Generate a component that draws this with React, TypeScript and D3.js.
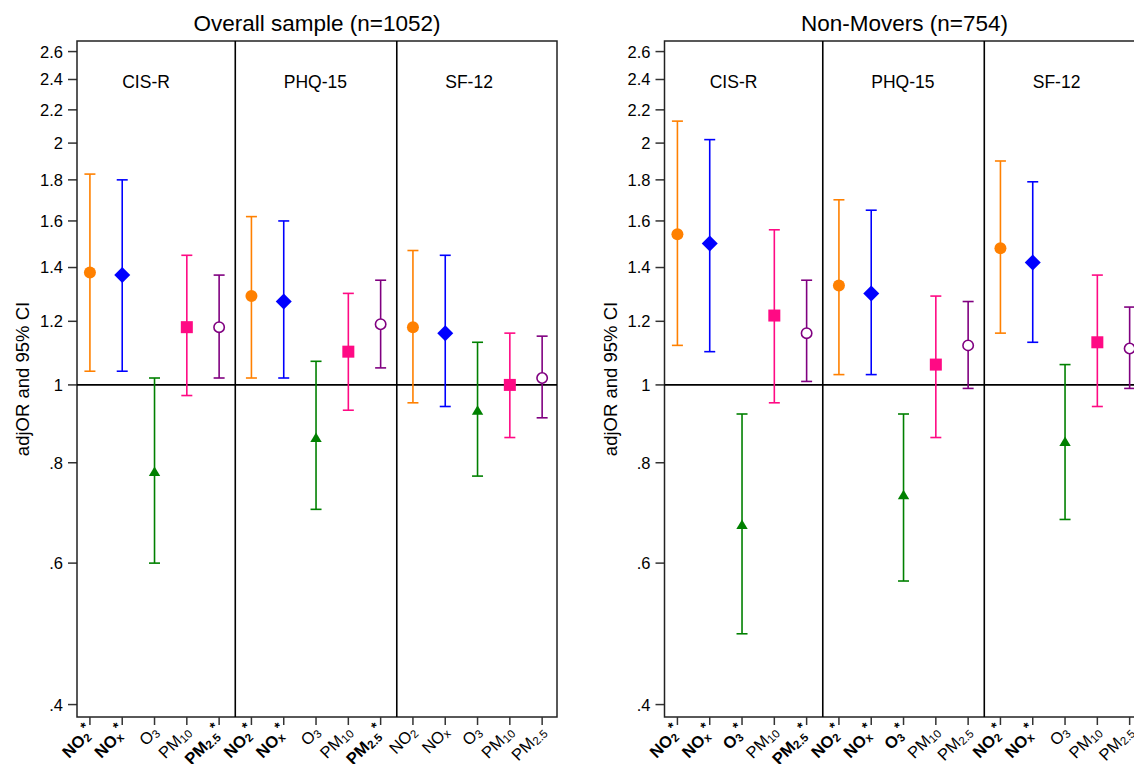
import React, { useEffect, useRef } from 'react';
import * as d3 from 'd3';

// outcomes (panels) and pollutants (x categories)
const outcomes = ['CIS-R', 'PHQ-15', 'SF-12'];
const pollutants = [
  { base: 'NO', sub: '2' },
  { base: 'NO', sub: 'x' },
  { base: 'O', sub: '3' },
  { base: 'PM', sub: '10' },
  { base: 'PM', sub: '2.5' },
];
const colors = ['#ff8000', '#0000ff', '#008000', '#ff0a84', '#800080'];

const yTicks = [0.4, 0.6, 0.8, 1, 1.2, 1.4, 1.6, 1.8, 2, 2.2, 2.4, 2.6];
const yTickLabels = ['.4', '.6', '.8', '1', '1.2', '1.4', '1.6', '1.8', '2', '2.2', '2.4', '2.6'];

// overall sample, ordered CIS-R, PHQ-15, SF-12 x pollutants
const overallOR = [1.38, 1.37, 0.78, 1.18, 1.18, 1.29, 1.27, 0.86, 1.1, 1.19, 1.18, 1.16, 0.93, 1.0, 1.02];
const overallLo = [1.04, 1.04, 0.6, 0.97, 1.02, 1.02, 1.02, 0.7, 0.93, 1.05, 0.95, 0.94, 0.77, 0.86, 0.91];
const overallHi = [1.83, 1.8, 1.02, 1.45, 1.37, 1.62, 1.6, 1.07, 1.3, 1.35, 1.47, 1.45, 1.13, 1.16, 1.15];
const overallSig = [1, 1, 0, 0, 1, 1, 1, 0, 0, 1, 0, 0, 0, 0, 0];

// non-movers
const stayOR = [1.54, 1.5, 0.67, 1.22, 1.16, 1.33, 1.3, 0.73, 1.06, 1.12, 1.48, 1.42, 0.85, 1.13, 1.11];
const stayLo = [1.12, 1.1, 0.49, 0.95, 1.01, 1.03, 1.03, 0.57, 0.86, 0.99, 1.16, 1.13, 0.68, 0.94, 0.99];
const stayHi = [2.13, 2.02, 0.92, 1.56, 1.35, 1.7, 1.65, 0.92, 1.29, 1.27, 1.9, 1.79, 1.06, 1.37, 1.25];
const staySig = [1, 1, 1, 0, 1, 1, 1, 1, 0, 0, 1, 1, 0, 0, 0];

const FONT = '"Liberation Sans", Arial, sans-serif';

const App = () => {
  const ref = useRef<SVGSVGElement>(null);

  useEffect(() => {
    const svg = d3.select(ref.current);
    svg.selectAll('*').remove();

    const top = 41;
    const bottom = 717;
    const y = d3.scaleLog().domain([0.386, 2.68]).range([bottom, top]);

    const drawPanel = (x0: number, title: string, or: number[], lo: number[], hi: number[], sig: number[]) => {
      const w = 480;
      const x = d3.scaleLinear().domain([0.6, 15.46]).range([x0, x0 + w]);
      const g = svg.append('g');

      g.append('text')
        .attr('x', x0 + w / 2)
        .attr('y', 31)
        .attr('text-anchor', 'middle')
        .style('font-family', FONT)
        .style('font-size', '22.5px')
        .text(title);

      g.append('text')
        .attr('transform', `translate(${x0 - 48},${(top + bottom) / 2}) rotate(-90)`)
        .attr('text-anchor', 'middle')
        .style('font-family', FONT)
        .style('font-size', '18.5px')
        .text('adjOR and 95% CI');

      // y axis ticks
      yTicks.forEach((t, i) => {
        g.append('line')
          .attr('x1', x0 - 9).attr('x2', x0)
          .attr('y1', y(t)).attr('y2', y(t))
          .attr('stroke', '#333').attr('stroke-width', 1.5);
        g.append('text')
          .attr('x', x0 - 14)
          .attr('y', y(t))
          .attr('dy', '0.36em')
          .attr('text-anchor', 'end')
          .style('font-family', FONT)
          .style('font-size', '16.5px')
          .text(yTickLabels[i]);
      });

      // frame, separators, reference line
      g.append('rect')
        .attr('x', x0).attr('y', top)
        .attr('width', w).attr('height', bottom - top)
        .attr('fill', 'none').attr('stroke', '#222').attr('stroke-width', 1.5);
      [5.5, 10.5].forEach((s) => {
        g.append('line')
          .attr('x1', x(s)).attr('x2', x(s))
          .attr('y1', top).attr('y2', bottom)
          .attr('stroke', '#000').attr('stroke-width', 1.6);
      });
      g.append('line')
        .attr('x1', x0).attr('x2', x0 + w)
        .attr('y1', y(1)).attr('y2', y(1))
        .attr('stroke', '#000').attr('stroke-width', 1.6);

      outcomes.forEach((o, k) => {
        g.append('text')
          .attr('x', x(k * 5 + 2))
          .attr('y', y(2.34))
          .style('font-family', FONT)
          .style('font-size', '17.5px')
          .text(o);
      });

      or.forEach((v, i) => {
        const p = i % 5;
        const cx = x(i + 1);
        const c = colors[p];

        // x tick and label
        g.append('line')
          .attr('x1', cx).attr('x2', cx)
          .attr('y1', bottom).attr('y2', bottom + 8)
          .attr('stroke', '#333').attr('stroke-width', 1.5);
        const lab = g.append('text')
          .attr('transform', `translate(${cx + 5},${bottom + 16}) rotate(-45)`)
          .attr('text-anchor', 'end')
          .style('font-family', FONT)
          .style('font-size', '16.5px')
          .style('font-weight', sig[i] ? 'bold' : 'normal');
        lab.append('tspan').text(pollutants[p].base);
        lab.append('tspan').attr('dy', 2).style('font-size', '11.5px').text(pollutants[p].sub);
        if (sig[i]) lab.append('tspan').attr('dy', -9).style('font-size', '14px').text('*');

        // confidence interval
        g.append('line')
          .attr('x1', cx).attr('x2', cx)
          .attr('y1', y(lo[i])).attr('y2', y(hi[i]))
          .attr('stroke', c).attr('stroke-width', 1.6);
        [lo[i], hi[i]].forEach((b) => {
          g.append('line')
            .attr('x1', cx - 5.5).attr('x2', cx + 5.5)
            .attr('y1', y(b)).attr('y2', y(b))
            .attr('stroke', c).attr('stroke-width', 1.6);
        });

        // marker
        const cy = y(v);
        if (p === 0) {
          g.append('circle').attr('cx', cx).attr('cy', cy).attr('r', 6).attr('fill', c);
        } else if (p === 1) {
          g.append('path')
            .attr('d', `M${cx},${cy - 8}L${cx + 8},${cy}L${cx},${cy + 8}L${cx - 8},${cy}Z`)
            .attr('fill', c);
        } else if (p === 2) {
          g.append('path')
            .attr('d', `M${cx},${cy - 5}L${cx + 5.7},${cy + 4.5}L${cx - 5.7},${cy + 4.5}Z`)
            .attr('fill', c);
        } else if (p === 3) {
          g.append('rect').attr('x', cx - 6).attr('y', cy - 6).attr('width', 12).attr('height', 12).attr('fill', c);
        } else {
          g.append('circle').attr('cx', cx).attr('cy', cy).attr('r', 5.2)
            .attr('fill', '#fff').attr('stroke', c).attr('stroke-width', 1.6);
        }
      });
    };

    drawPanel(77, 'Overall sample (n=1052)', overallOR, overallLo, overallHi, overallSig);
    drawPanel(664.5, 'Non-Movers (n=754)', stayOR, stayLo, stayHi, staySig);
  }, []);

  return (
    <div style={{ position: 'absolute', left: 0, top: 0, width: 1134, height: 764, overflow: 'hidden', background: '#fff' }}>
      <svg ref={ref} width={1134} height={764} style={{ display: 'block' }} />
    </div>
  );
};

export default App;
